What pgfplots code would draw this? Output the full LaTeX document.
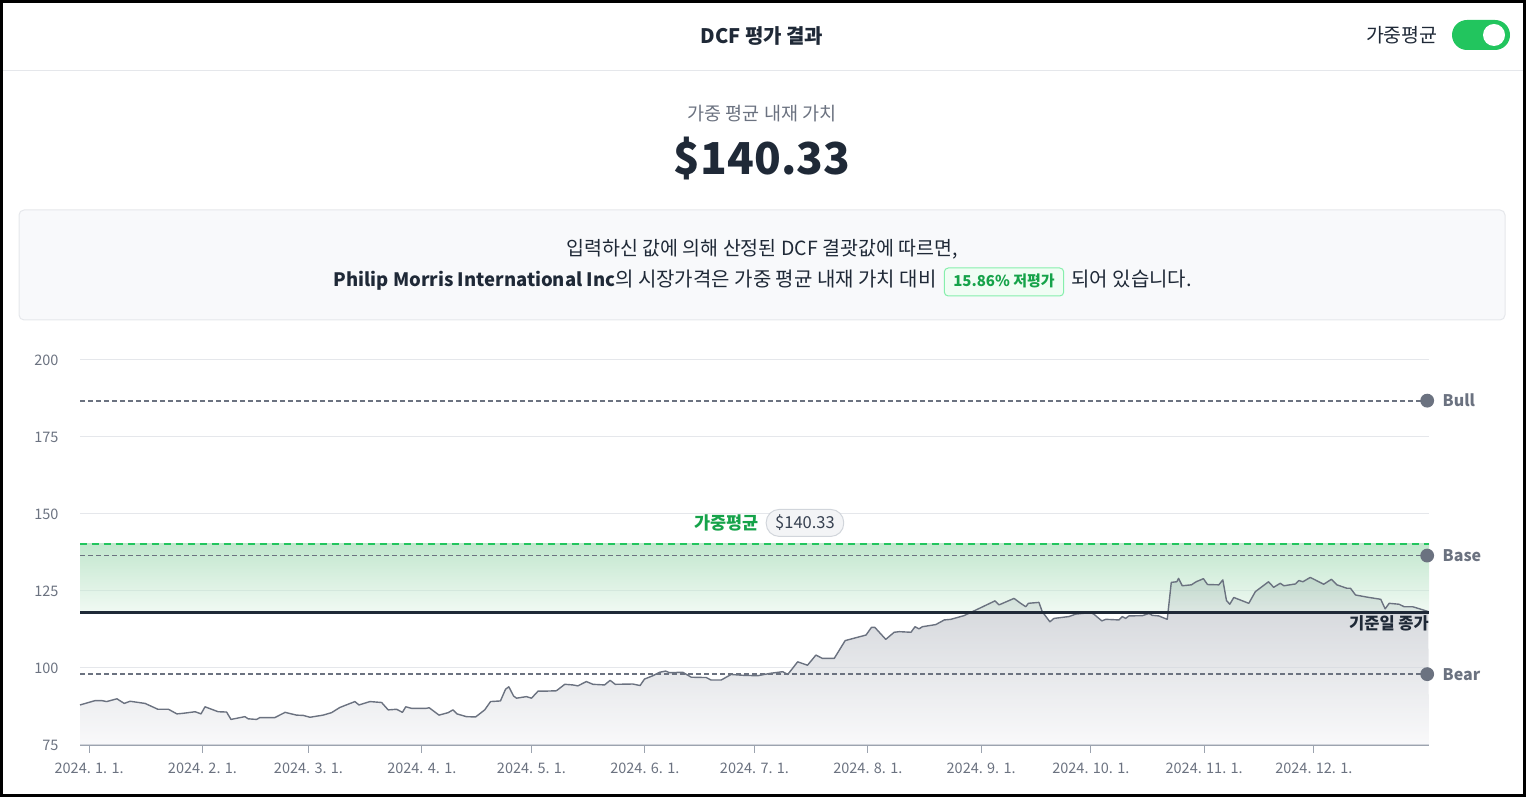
\documentclass[border=0pt]{standalone}
\usepackage{pgfplots}
\pgfplotsset{compat=1.18}
\usepgfplotslibrary{fillbetween}
\usepackage{fontspec}
\setmainfont{Noto Sans CJK KR}
\definecolor{txtdark}{HTML}{1F2937}
\definecolor{txtgray}{HTML}{6B7280}
\definecolor{gridc}{HTML}{E5E7EB}
\definecolor{axisc}{HTML}{9CA3AF}
\definecolor{green1}{HTML}{22C55E}
\definecolor{green2}{HTML}{16A34A}
\definecolor{boxbg}{HTML}{F8F9FB}
\definecolor{boxbd}{HTML}{E5E7EB}
\definecolor{badgebg}{HTML}{F0FDF4}
\definecolor{badgebd}{HTML}{86EFAC}
\definecolor{bandtop}{HTML}{85CF9D}
\definecolor{bandbot}{HTML}{E3F4E8}
\definecolor{areatop}{HTML}{AFB4BC}
\definecolor{areabot}{HTML}{F5F5F7}
\definecolor{pillbg}{HTML}{F3F4F6}
\definecolor{pillbd}{HTML}{D1D5DB}
\definecolor{pilltxt}{HTML}{374151}

\pgfplotstableread{
day price
-2.5 88.0
1.6 89.4
3.5 89.4
4.8 89.1
7.6 90.0
9.6 88.5
11.2 89.2
15.3 88.5
18.8 86.6
21.7 86.6
24.0 85.1
25.8 85.3
29.0 85.8
30.6 85.1
31.7 87.4
35.3 85.8
37.6 85.7
38.8 83.3
42.6 84.2
43.5 83.5
45.8 83.3
46.7 83.9
50.8 83.9
53.6 85.6
56.7 84.7
58.6 84.6
60.4 84.0
64.0 84.7
66.3 85.5
68.6 87.2
72.7 89.1
73.8 88.0
76.8 89.1
80.0 88.8
81.8 86.4
84.1 86.6
85.7 85.6
86.6 87.4
88.2 86.9
92.2 86.9
93.0 87.1
95.7 84.7
98.2 85.5
99.5 86.4
100.6 85.1
103.2 84.2
105.7 84.1
108.2 86.4
109.8 89.1
112.5 89.3
113.9 93.1
114.8 93.9
116.1 90.9
116.9 90.2
119.6 90.7
121.0 90.2
122.8 92.5
125.1 92.5
127.8 92.6
130.1 94.7
132.3 94.5
133.7 94.2
136.0 95.6
137.8 94.7
141.0 94.5
142.5 96.0
143.9 94.7
148.7 94.8
150.7 94.3
151.9 96.4
154.2 97.5
156.0 98.6
157.7 99.0
158.7 98.5
162.4 98.6
164.7 97.0
168.8 96.9
170.1 96.1
172.9 96.1
175.6 97.9
179.2 97.6
182.9 97.5
186.5 98.3
189.7 98.8
191.1 97.9
193.8 102.0
196.5 100.9
198.8 104.2
200.6 103.1
203.8 103.1
206.8 108.9
212.5 110.7
214.0 113.2
214.9 113.2
217.9 109.3
220.2 111.6
221.6 111.8
224.8 111.6
225.9 113.4
227.0 112.7
227.9 113.4
231.6 114.1
233.9 115.6
235.7 115.8
239.3 117.0
242.5 118.8
247.8 121.8
248.9 120.5
253.0 122.6
254.8 121.0
256.2 119.9
256.9 121.0
259.8 121.3
260.7 118.3
262.8 115.0
263.9 116.1
268.0 116.7
269.9 117.5
274.0 118.0
274.9 117.4
277.0 115.3
278.1 115.8
281.7 115.6
282.6 116.7
283.5 116.1
284.4 116.9
288.1 117.0
289.9 117.7
290.8 117.1
292.6 116.9
294.9 115.8
296.0 127.8
297.5 128.0
298.0 129.1
299.0 126.7
301.5 127.0
302.8 128.0
304.0 128.6
304.8 129.0
305.9 127.1
309.0 127.0
310.1 128.6
311.1 121.9
312.0 120.7
313.1 122.9
317.2 121.0
319.0 124.8
322.6 128.0
324.0 126.2
325.8 127.5
326.8 126.7
330.0 127.3
330.9 128.4
332.0 128.0
334.0 129.4
337.7 127.2
339.8 128.8
341.3 127.0
344.0 125.9
345.0 125.9
346.4 123.7
349.6 123.0
353.3 122.3
354.5 119.2
355.6 121.0
358.3 120.7
359.7 119.9
362.0 119.9
364.5 119.0
366.3 118.3
}\pricedata

\begin{document}
\begin{tikzpicture}[x=1pt,y=1pt]
% frame
\draw[black,line width=3pt] (1.5,1.5) rectangle (1524.5,795.5);
% header
\node[text=txtdark] at (762,797-36) {\fontsize{20}{24}\selectfont\bfseries DCF 평가 결과};
\node[anchor=east,text=txtdark,inner sep=0pt] at (1438,797-35) {\fontsize{19.5}{22}\selectfont 가중평균};
\fill[green1,rounded corners=15pt] (1452,797-50) rectangle (1510,797-20);
\fill[white] (1494,797-35) circle (11);
\draw[gridc,line width=1pt] (3,797-71) -- (1523,797-71);
% value
\node[text=txtgray] at (762,797-114) {\fontsize{18.5}{22}\selectfont 가중 평균 내재 가치};
\node[text=txtdark] at (762,797-159) {\fontsize{44}{50}\selectfont\bfseries \$140.33};
% info box
\draw[boxbd,fill=boxbg,rounded corners=5pt,line width=1pt] (19,797-320) rectangle (1505,797-210);
\node[anchor=base,text=txtdark] at (762,797-256) {\fontsize{19.5}{24}\selectfont 입력하신 값에 의해 산정된 DCF 결괏값에 따르면,};
\node[anchor=base,draw=badgebd,fill=badgebg,rounded corners=4pt,line width=1pt,
  text=green2,inner xsep=9pt,inner ysep=7pt,text height=12pt,text depth=2pt] (badge) at (1004,797-287)
  {\fontsize{15}{18}\selectfont\bfseries 15.86\% 저평가};
\node[anchor=base east,text=txtdark,inner sep=0pt] at ([xshift=-7pt]badge.base west) {{\fontsize{18.5}{22}\selectfont\bfseries Philip Morris International Inc}{\fontsize{20}{24}\selectfont 의 시장가격은 가중 평균 내재 가치 대비}};
\node[anchor=base west,text=txtdark,inner sep=0pt] at ([xshift=7pt]badge.base east) {\fontsize{20}{24}\selectfont 되어 있습니다.};

\begin{axis}[at={(80pt,52pt)},anchor=south west,scale only axis,
  width=1349pt,height=385pt,
  xmin=-2.5,xmax=366.5,ymin=75,ymax=200,
  clip=false,
  ytick={75,100,125,150,175,200},
  ymajorgrids,grid style={gridc,line width=1pt},
  xtick={0,31,60,91,121,152,182,213,244,274,305,335},
  xticklabels={{2024. 1. 1.},{2024. 2. 1.},{2024. 3. 1.},{2024. 4. 1.},{2024. 5. 1.},{2024. 6. 1.},{2024. 7. 1.},{2024. 8. 1.},{2024. 9. 1.},{2024. 10. 1.},{2024. 11. 1.},{2024. 12. 1.}},
  axis x line*=bottom,axis y line*=left,
  y axis line style={draw=none},
  x axis line style={axisc,line width=1.2pt},
  ytick style={draw=none},
  xtick style={axisc,line width=1pt},
  tick align=outside,major tick length=8pt,
  tick label style={text=txtgray,font=\fontsize{14.5}{16}\selectfont},
  yticklabel style={xshift=-10pt},
  xticklabel style={yshift=-6pt},
  /pgf/number format/assume math mode=true,
]
% area under price
\addplot[name path=price,draw=none,forget plot] table[x=day,y=price]{\pricedata};
\addplot[name path=floor,draw=none,forget plot] coordinates {(-2.5,75) (366.5,75)};
\addplot[draw=none,fill=none,top color=areatop,bottom color=areabot,fill opacity=0.6] fill between[of=price and floor];
% band
\addplot[name path=close,draw=none,forget plot] coordinates {(-2.5,118.07) (366.5,118.07)};
\addplot[name path=avg,draw=none,forget plot] coordinates {(-2.5,140.33) (366.5,140.33)};
\addplot[draw=none,fill=none,top color=bandtop,bottom color=bandbot,fill opacity=0.5] fill between[of=avg and close];
% scenario lines
\addplot[txtgray,line width=1.8pt,dash pattern=on 5pt off 3pt,mark=*,mark indices={2},mark options={solid,fill=txtgray,draw=txtgray},mark size=6pt] coordinates {(-2.5,186.8) (366,186.8)};
\addplot[txtgray,line width=1.8pt,dash pattern=on 5pt off 3pt,mark=*,mark indices={2},mark options={solid,fill=txtgray,draw=txtgray},mark size=6pt] coordinates {(-2.5,136.5) (366,136.5)};
\addplot[txtgray,line width=1.8pt,dash pattern=on 5pt off 3pt,mark=*,mark indices={2},mark options={solid,fill=txtgray,draw=txtgray},mark size=6pt] coordinates {(-2.5,98.0) (366,98.0)};
% weighted avg line
\addplot[green1,line width=2.2pt,dash pattern=on 7pt off 5pt] coordinates {(-2.5,140.33) (366.5,140.33)};
% price line
\addplot[txtgray,line width=1.4pt,line join=round] table[x=day,y=price]{\pricedata};
% close line
\addplot[txtdark,line width=2.5pt] coordinates {(-2.5,118.07) (366.5,118.07)};
% labels
\node[anchor=west,text=txtgray,font=\fontsize{16}{18}\selectfont\bfseries] at ([xshift=12pt]axis cs:366,186.8) {Bull};
\node[anchor=west,text=txtgray,font=\fontsize{16}{18}\selectfont\bfseries] at ([xshift=12pt]axis cs:366,136.5) {Base};
\node[anchor=west,text=txtgray,font=\fontsize{16}{18}\selectfont\bfseries] at ([xshift=12pt]axis cs:366,98.0) {Bear};
\node[anchor=east,text=txtdark,font=\fontsize{16.5}{18}\selectfont\bfseries,inner sep=0pt] at (axis cs:366.5,114.6) {기준일 종가};
\node[anchor=east,text=green2,font=\fontsize{17.5}{20}\selectfont\bfseries,inner sep=0pt] at (axis cs:183.3,147.1) {가중평균};
\node[draw=pillbd,fill=pillbg,rounded corners=13pt,line width=1pt,text=pilltxt,inner xsep=9pt,minimum height=27pt,font=\fontsize{16.5}{18}\selectfont] at (axis cs:195.8,147.1) {\$140.33};
\end{axis}
\end{tikzpicture}
\end{document}
